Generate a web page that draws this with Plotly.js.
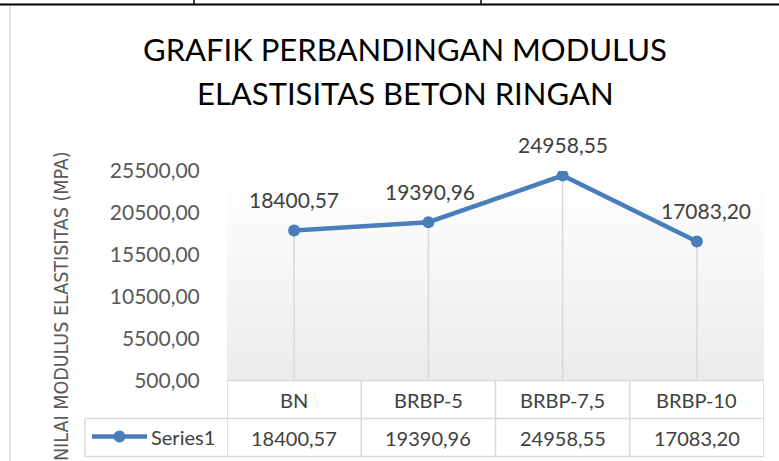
<!DOCTYPE html>
<html>
<head>
<meta charset="utf-8">
<script src="https://cdn.plot.ly/plotly-3.0.1.min.js"></script>
<style>
  html, body { margin: 0; padding: 0; background: #ffffff; }
  #chart { width: 779px; height: 461px; }
</style>
</head>
<body>
<div id="chart"></div>
<script>
// ---- data ----
const categories = ['BN', 'BRBP-5', 'BRBP-7,5', 'BRBP-10'];
const values = [18400.57, 19390.96, 24958.55, 17083.20];
const seriesName = 'Series1';
const titleLines = ['GRAFIK PERBANDINGAN MODULUS', 'ELASTISITAS BETON RINGAN'];
const yTitle = 'NILAI MODULUS ELASTISITAS (MPA)';
const yMin = 500, yMax = 25500, yStep = 5000;

// ---- helpers / styling ----
const W = 779, H = 461;
const px = x => x / W;
const py = y => (H - y) / H;
const fmt = v => v.toFixed(2).replace('.', ',');
const FONT = 'Lato, "Open Sans", sans-serif';
const BLUE = '#4a7ebb';
const GRID = '#d9d9d9';
const TXT = '#404040';

const plotL = 227, plotR = 764, plotT = 171, plotB = 380.5;
const rowTop = 380.5, rowMid = 418.5, rowBot = 456.5, legendL = 85;

const trace = {
  type: 'scatter',
  mode: 'lines+markers',
  name: seriesName,
  x: categories,
  y: values,
  line: { color: BLUE, width: 4.5 },
  marker: { color: BLUE, size: 12 },
  error_y: {
    type: 'data', symmetric: false,
    array: values.map(() => 0),
    arrayminus: values.map(v => v - yMin),
    color: GRID, thickness: 1.5, width: 0
  },
  hoverinfo: 'x+y'
};

const shapes = [];
// plot-area gradient (white top -> light grey bottom)
const N = 40;
for (let k = 0; k < N; k++) {
  const t = k / (N - 1);
  const g = Math.round(236 + (255 - 236) * t);
  shapes.push({
    type: 'rect', xref: 'x domain', yref: 'y domain', layer: 'below',
    x0: 0, x1: 1, y0: k / N, y1: (k + 1) / N + 0.002,
    fillcolor: `rgb(${g},${g},${g})`, line: { width: 0 }
  });
}
const hline = (x0, x1, y, color, w, xref) => shapes.push({
  type: 'line', xref: xref || 'paper', yref: 'paper',
  x0: x0, x1: x1, y0: py(y), y1: py(y), line: { color: color, width: w }
});
const vline = (x, y0, y1, color, w, xref) => shapes.push({
  type: 'line', xref: xref || 'paper', yref: 'paper',
  x0: x, x1: x, y0: py(y0), y1: py(y1), line: { color: color, width: w }
});
// data table grid
hline(px(plotL), px(plotR), rowTop, GRID, 1.5);
hline(px(legendL), px(plotR), rowMid, GRID, 1.5);
hline(px(legendL), px(plotR), rowBot, GRID, 1.5);
vline(px(legendL), rowMid, rowBot, GRID, 1.5);
for (let i = 0; i <= categories.length; i++) {
  vline(i - 0.5, rowTop, rowBot, GRID, 1.5, 'x');
}
// legend key in table
hline(px(92), px(147), 436.5, BLUE, 4.5);
shapes.push({
  type: 'circle', xref: 'paper', yref: 'paper',
  x0: px(113.5), x1: px(125.5), y0: py(442.5), y1: py(430.5),
  fillcolor: BLUE, line: { color: BLUE, width: 0 }
});
// spreadsheet artifacts around the chart
hline(0, 1, 4.5, '#000000', 2);
vline(px(194), 0, 4.5, '#000000', 1.5);
vline(px(481), 0, 4.5, '#000000', 1.5);
vline(px(10), 6, 461, GRID, 1.5);

const annotations = [];
// title
const titleY = [49.5, 93.5];
titleLines.forEach((t, i) => annotations.push({
  text: t, xref: 'paper', yref: 'paper', x: px(405), y: py(titleY[i]),
  xanchor: 'center', yanchor: 'middle', showarrow: false,
  font: { family: FONT, size: 31, color: '#000000' }
}));
// y axis title
annotations.push({
  text: yTitle, xref: 'paper', yref: 'paper', x: px(61), y: py(149),
  xanchor: 'center', yanchor: 'top', textangle: -90, showarrow: false,
  font: { family: '"Liberation Sans Narrow", "DejaVu Sans Condensed", sans-serif', size: 19.5, color: '#595959' }
});
// data labels
const labelDx = [0, 2, 0, 9];
categories.forEach((c, i) => annotations.push({
  text: fmt(values[i]), x: c, y: values[i], xref: 'x', yref: 'y',
  yshift: 31, xshift: labelDx[i], showarrow: false,
  xanchor: 'center', yanchor: 'middle',
  font: { family: FONT, size: 21, color: TXT }
}));
// table text
categories.forEach((c, i) => {
  annotations.push({
    text: c, x: c, xref: 'x', yref: 'paper', y: py((rowTop + rowMid) / 2),
    showarrow: false, xanchor: 'center', yanchor: 'middle',
    font: { family: FONT, size: 20, color: TXT }
  });
  annotations.push({
    text: fmt(values[i]), x: c, xref: 'x', yref: 'paper', y: py((rowMid + rowBot) / 2),
    showarrow: false, xanchor: 'center', yanchor: 'middle',
    font: { family: FONT, size: 20, color: TXT }
  });
});
annotations.push({
  text: seriesName, xref: 'paper', yref: 'paper', x: px(149), y: py(436.5),
  showarrow: false, xanchor: 'left', yanchor: 'middle',
  font: { family: FONT, size: 20, color: TXT }
});

const layout = {
  width: W, height: H,
  margin: { l: 0, r: 0, t: 0, b: 0 },
  paper_bgcolor: '#ffffff', plot_bgcolor: 'rgba(0,0,0,0)',
  separators: ',.',
  showlegend: false,
  font: { family: FONT, color: '#595959' },
  xaxis: {
    domain: [px(plotL), px(plotR)],
    type: 'category', range: [-0.5, categories.length - 0.5],
    showticklabels: false, showgrid: false, zeroline: false, showline: false,
    ticks: '', fixedrange: true
  },
  yaxis: {
    domain: [py(plotB), py(plotT)],
    range: [yMin, yMax], tick0: yMin, dtick: yStep, tickformat: '.2f',
    showgrid: false, zeroline: false, showline: false,
    ticks: 'outside', ticklen: 22, tickcolor: 'rgba(0,0,0,0)',
    tickfont: { family: FONT, size: 21, color: '#595959' },
    fixedrange: true
  },
  shapes: shapes,
  annotations: annotations
};

Plotly.newPlot('chart', [trace], layout, { displayModeBar: false, staticPlot: true });
</script>
</body>
</html>
